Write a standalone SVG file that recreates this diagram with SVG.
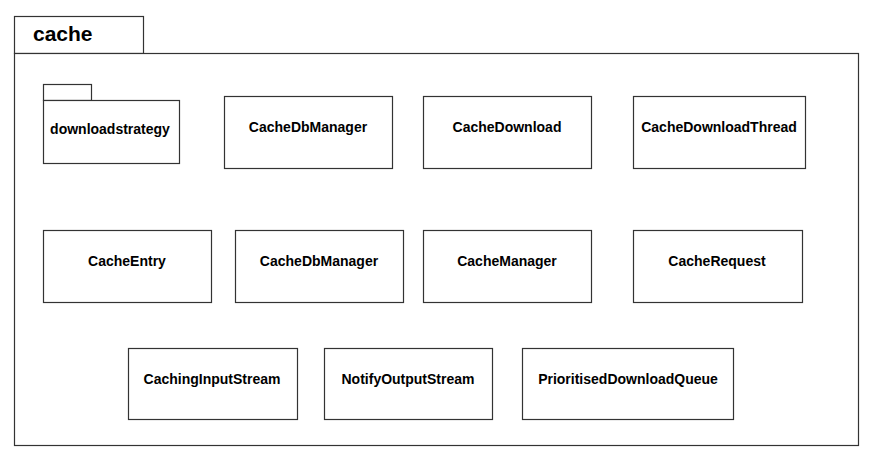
<svg xmlns="http://www.w3.org/2000/svg" width="879" height="470" viewBox="0 0 879 470">
<style>
.frame{fill:#fff;stroke:#333;stroke-width:1.2}
.box{fill:#fff;stroke:#333;stroke-width:1.2}
.lbl{font-family:"Liberation Sans",Arial,sans-serif;font-weight:bold;font-size:14px;fill:#000;text-anchor:middle}
.title{font-family:"Liberation Sans",Arial,sans-serif;font-weight:bold;font-size:21px;fill:#000}
</style>
<rect width="879" height="470" fill="#fff"/>
<g id="cache">
<rect class="frame" x="14.5" y="16.5" width="129" height="37"/>
<rect class="frame" x="14.5" y="53.5" width="844" height="392"/>
<text class="title" x="33" y="41">cache</text>
</g>
<g id="downloadstrategy">
<rect class="box" x="43.5" y="84.5" width="48" height="16"/>
<rect class="box" x="43.5" y="100.5" width="136" height="63"/>
<text class="lbl" x="110" y="134">downloadstrategy</text>
</g>
<g id="CacheDbManager1">
<rect class="box" x="224.5" y="96.5" width="168" height="72"/>
<text class="lbl" x="308" y="132">CacheDbManager</text>
</g>
<g id="CacheDownload">
<rect class="box" x="423.5" y="96.5" width="168" height="72"/>
<text class="lbl" x="507" y="132">CacheDownload</text>
</g>
<g id="CacheDownloadThread">
<rect class="box" x="633.5" y="96.5" width="172" height="72"/>
<text class="lbl" x="719" y="132">CacheDownloadThread</text>
</g>
<g id="CacheEntry">
<rect class="box" x="43.5" y="230.5" width="168" height="72"/>
<text class="lbl" x="127" y="266">CacheEntry</text>
</g>
<g id="CacheDbManager2">
<rect class="box" x="235.5" y="230.5" width="168" height="72"/>
<text class="lbl" x="319" y="266">CacheDbManager</text>
</g>
<g id="CacheManager">
<rect class="box" x="423.5" y="230.5" width="168" height="72"/>
<text class="lbl" x="507" y="266">CacheManager</text>
</g>
<g id="CacheRequest">
<rect class="box" x="633.5" y="230.5" width="169" height="72"/>
<text class="lbl" x="717" y="266">CacheRequest</text>
</g>
<g id="CachingInputStream">
<rect class="box" x="128.5" y="348.5" width="169" height="71"/>
<text class="lbl" x="212" y="384">CachingInputStream</text>
</g>
<g id="NotifyOutputStream">
<rect class="box" x="324.5" y="348.5" width="168" height="71"/>
<text class="lbl" x="408" y="384">NotifyOutputStream</text>
</g>
<g id="PrioritisedDownloadQueue">
<rect class="box" x="522.5" y="348.5" width="211" height="71"/>
<text class="lbl" x="628" y="384">PrioritisedDownloadQueue</text>
</g>
<g id="connectors"></g>
</svg>
